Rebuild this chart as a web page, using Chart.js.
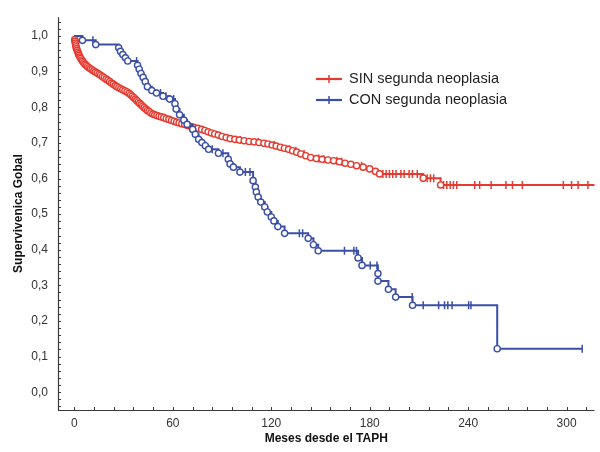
<!DOCTYPE html>
<html><head><meta charset="utf-8">
<script src="https://cdn.jsdelivr.net/npm/chart.js@4/dist/chart.umd.min.js"></script>
<style>html,body{margin:0;padding:0;background:#fff}#wrap{width:600px;height:452px}</style>
</head><body><div id="wrap"><canvas id="c" width="600" height="452"></canvas></div>
<script>
// ---- Data ----
const seriesNames = ['SIN segunda neoplasia', 'CON segunda neoplasia'];
const xTickValues = [0, 60, 120, 180, 240, 300];
const yTickValues = [0, 0.1, 0.2, 0.3, 0.4, 0.5, 0.6, 0.7, 0.8, 0.9, 1.0];

// SIN segunda neoplasia: event times (months) and survival after each event
const redT = [0.2,0.4,0.6,0.8,1.0,1.3,1.7,2.1,2.5,2.9,3.4,3.9,4.5,5.0,5.7,6.4,7.2,8.0,8.9,9.8,10.8,11.8,12.8,13.9,15.0,16.0,17.1,18.2,19.3,20.4,21.5,22.6,23.7,24.8,25.9,27.1,28.3,29.5,30.8,32.1,33.3,34.3,35.3,36.2,37.1,38.0,38.9,39.8,40.7,41.6,42.5,43.5,44.5,45.5,46.6,47.8,49.0,50.3,51.6,53.0,54.5,56.0,57.6,59.2,60.8,62.3,63.8,65.5,67.2,69.0,71.0,73.0,75.2,77.5,79.5,81.5,83.5,85.5,87.7,90.0,92.5,95.0,97.8,100.5,103.5,106.5,109.5,112.5,115.5,118.0,120.5,123.0,125.5,128.0,130.5,133.0,135.5,138.0,141.0,144.0,147.5,151.0,154.5,158.0,161.5,165.0,168.5,172.0,176.0,180.0,183.5,186.0,212.6,223.2];
const redS = [0.990,0.985,0.980,0.975,0.970,0.965,0.960,0.955,0.950,0.946,0.941,0.937,0.933,0.929,0.925,0.921,0.918,0.914,0.911,0.908,0.905,0.902,0.899,0.896,0.893,0.890,0.886,0.883,0.879,0.876,0.872,0.868,0.865,0.861,0.858,0.855,0.852,0.849,0.846,0.843,0.839,0.835,0.831,0.827,0.823,0.819,0.815,0.811,0.807,0.803,0.799,0.795,0.791,0.788,0.784,0.781,0.779,0.777,0.775,0.773,0.771,0.768,0.766,0.763,0.761,0.758,0.756,0.754,0.752,0.749,0.746,0.743,0.741,0.738,0.735,0.731,0.728,0.725,0.722,0.718,0.715,0.712,0.710,0.708,0.706,0.704,0.703,0.701,0.699,0.697,0.694,0.691,0.688,0.685,0.682,0.678,0.674,0.669,0.664,0.659,0.656,0.654,0.652,0.650,0.647,0.643,0.640,0.636,0.632,0.627,0.620,0.613,0.601,0.582];
const redCensor = [101,112,122,131,135,140,149,152,160,163,175,188,190,192,194,196,199,201,204,206,209,215,217,219,225,227,229,231,233,244,247,254,263,267,273,298,303,307,313];
const redEnd = 317;

// CON segunda neoplasia
const blueT = [4.9,13.0,27.0,28.1,29.5,31.1,32.5,38.5,39.5,40.6,41.9,43.2,44.5,47.2,50.0,54.0,58.1,61.3,62.0,64.1,66.7,68.7,72.1,73.7,75.7,77.7,79.8,81.8,87.8,93.8,94.9,96.9,100.9,108.9,110.3,110.9,112.0,113.6,116.0,117.6,120.0,121.6,124.0,128.1,142.5,145.7,148.6,172.9,175.3,185.0,185.0,191.4,195.8,206.1,257.7];
const blueS = [0.988,0.976,0.967,0.957,0.948,0.939,0.930,0.918,0.907,0.895,0.884,0.872,0.858,0.847,0.840,0.831,0.823,0.810,0.795,0.779,0.764,0.752,0.738,0.724,0.710,0.701,0.692,0.682,0.671,0.654,0.641,0.632,0.618,0.594,0.576,0.562,0.548,0.534,0.520,0.506,0.492,0.481,0.465,0.446,0.432,0.414,0.397,0.377,0.356,0.333,0.312,0.289,0.267,0.244,0.122];
const blueCensor = [11.3,37.9,52.5,55.8,60.5,84.0,90.5,104.2,107.0,137.1,139.1,164.6,170.3,171.9,180.3,184.4,205.9,212.6,222.0,225.6,227.6,230.2,240.3,241.7,309.5];
const blueEnd = 309.5;

// ---- helpers ----
function survAt(T, S, t) { let s = 1; for (let i = 0; i < T.length; i++) { if (T[i] <= t) s = S[i]; } return s; }
function curve(T, S, end) {
  const pts = [{x: 0, y: 1, ev: false}];
  T.forEach((t, i) => pts.push({x: t, y: S[i], ev: true}));
  pts.push({x: end, y: S[S.length - 1], ev: false});
  return pts;
}
function censors(T, S, C) { return C.map(t => ({x: t, y: survAt(T, S, t)})); }

const RED = '#e63a30', BLUE = '#3b4fa5';
const FONT = '"Liberation Sans", Arial, sans-serif';
const fmt = v => v.toFixed(1).replace('.', ',');

const axesPlugin = {
  id: 'axesPlugin',
  beforeDatasetsDraw(chart) {
    const {ctx, chartArea: a, scales: {x, y}} = chart;
    ctx.save();
    ctx.strokeStyle = '#3a3a3a'; ctx.lineWidth = 1.2;
    ctx.beginPath();
    ctx.moveTo(a.left + 0.5, a.top); ctx.lineTo(a.left + 0.5, a.bottom + 0.5); ctx.lineTo(a.right, a.bottom + 0.5);
    ctx.stroke();
    ctx.lineWidth = 1;
    ctx.beginPath();
    for (let v = 0; v <= x.max; v += 12) { const px = Math.round(x.getPixelForValue(v)) + 0.5; ctx.moveTo(px, a.bottom); ctx.lineTo(px, a.bottom - 3); }
    for (let k = -2; k <= 52; k++) { const v = k * 0.02; if (v < y.min || v > y.max) continue; const py = Math.round(y.getPixelForValue(v)) + 0.5; ctx.moveTo(a.left, py); ctx.lineTo(a.left + 3, py); }
    ctx.stroke();
    ctx.restore();
  },
  afterDraw(chart) {
    const {ctx} = chart;
    const items = [{name: seriesNames[0], color: RED, y: 79}, {name: seriesNames[1], color: BLUE, y: 100}];
    ctx.save();
    items.forEach(it => {
      ctx.strokeStyle = it.color; ctx.lineWidth = 2.2;
      ctx.beginPath(); ctx.moveTo(316, it.y); ctx.lineTo(342, it.y); ctx.stroke();
      ctx.lineWidth = 1.5;
      ctx.beginPath(); ctx.moveTo(329, it.y - 4); ctx.lineTo(329, it.y + 4); ctx.stroke();
      ctx.fillStyle = '#1e1e1e'; ctx.font = '14.5px ' + FONT;
      ctx.textBaseline = 'middle'; ctx.textAlign = 'left';
      ctx.fillText(it.name, 349, it.y);
    });
    ctx.restore();
  }
};

function lineDS(label, T, S, end, color, order) {
  return {
    type: 'line', label, data: curve(T, S, end), stepped: 'before',
    borderColor: color, borderWidth: 2, backgroundColor: '#fff',
    pointRadius: c => (c.raw && c.raw.ev) ? 3.1 : 0,
    pointBorderWidth: 1.4, pointBorderColor: color, pointBackgroundColor: '#fff',
    pointHoverRadius: 0, fill: false, order, clip: 8
  };
}
function censorDS(label, T, S, C, color, order) {
  return {
    type: 'scatter', label, data: censors(T, S, C), showLine: false,
    pointStyle: 'line', rotation: 90, pointRadius: 4, pointBorderWidth: 1.5,
    borderColor: color, pointBorderColor: color, backgroundColor: color, order, clip: 8
  };
}

new Chart(document.getElementById('c'), {
  data: {
    datasets: [
      censorDS('SIN censor', redT, redS, redCensor, RED, 4),
      lineDS(seriesNames[0], redT, redS, redEnd, RED, 3),
      censorDS('CON censor', blueT, blueS, blueCensor, BLUE, 2),
      lineDS(seriesNames[1], blueT, blueS, blueEnd, BLUE, 1)
    ]
  },
  options: {
    responsive: false, animation: false, devicePixelRatio: 1,
    layout: {padding: {top: 13, right: 0, left: 0, bottom: 0}},
    plugins: {legend: {display: false}, tooltip: {enabled: false}},
    scales: {
      x: {
        type: 'linear', min: -10, max: 317,
        grid: {display: false, drawTicks: false, tickLength: 0}, border: {display: false},
        afterBuildTicks: s => { s.ticks = xTickValues.map(v => ({value: v})); },
        afterFit: s => { s.height = 42; },
        ticks: {padding: 6, color: '#333', font: {family: FONT, size: 12}, maxRotation: 0, callback: v => String(v)},
        title: {display: true, text: 'Meses desde el TAPH', color: '#111', font: {family: FONT, size: 12, weight: 'bold'}, padding: {top: 0, bottom: 6}}
      },
      y: {
        type: 'linear', min: -0.05, max: 1.053,
        grid: {display: false, drawTicks: false, tickLength: 0}, border: {display: false},
        afterBuildTicks: s => { s.ticks = yTickValues.map(v => ({value: v})); },
        afterFit: s => { s.width = 58; },
        ticks: {padding: 10, color: '#333', font: {family: FONT, size: 12}, callback: v => fmt(v)},
        title: {display: true, text: 'Supervivenica Gobal', color: '#111', font: {family: FONT, size: 12, weight: 'bold'}, padding: {top: 11, bottom: 0}}
      }
    }
  },
  plugins: [axesPlugin]
});
</script></body></html>
